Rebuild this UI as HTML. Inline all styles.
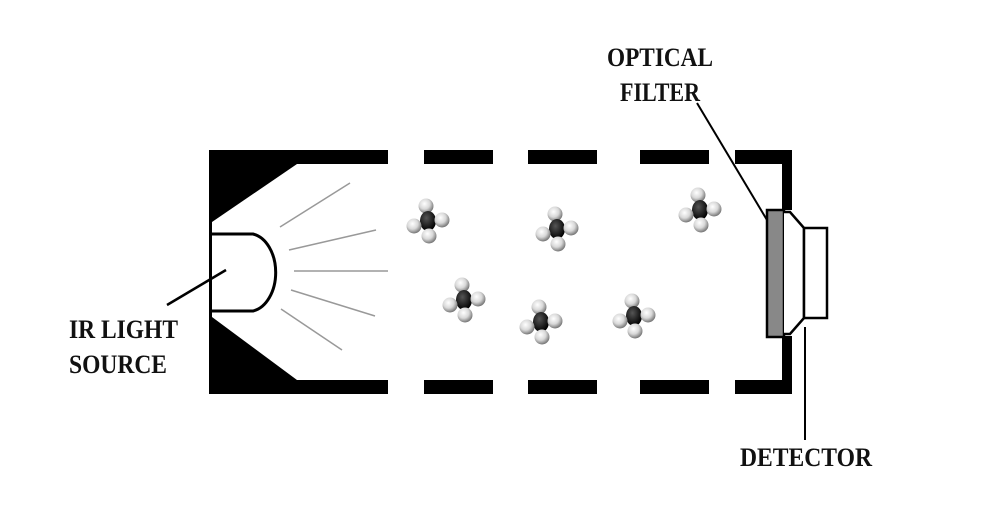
<!DOCTYPE html>
<html><head><meta charset="utf-8"><style>html,body{margin:0;padding:0;background:#fff}svg{display:block}</style></head>
<body>
<svg width="985" height="514" viewBox="0 0 985 514" xmlns="http://www.w3.org/2000/svg">
<defs>
<radialGradient id="h" cx="0.4" cy="0.35" r="0.65"><stop offset="0" stop-color="#fff"/><stop offset="0.55" stop-color="#d8d8d8"/><stop offset="1" stop-color="#777"/></radialGradient>
<radialGradient id="c" cx="0.4" cy="0.35" r="0.65"><stop offset="0" stop-color="#555"/><stop offset="1" stop-color="#000"/></radialGradient>
<g id="m">
<circle cx="-2" cy="-16" r="7.5" fill="url(#h)"/>
<ellipse cx="0" cy="-1" rx="8" ry="10" fill="url(#c)"/>
<circle cx="-14" cy="4" r="7.5" fill="url(#h)"/>
<circle cx="14" cy="-2" r="7.5" fill="url(#h)"/>
<circle cx="1" cy="14" r="7.5" fill="url(#h)"/>
</g>
</defs>
<path d="M209 150 H388 V164 H297 L212 222 V317 L297 380 H388 V394 H209 Z" fill="#000"/>
<path d="M212 234 H253 A27 39 0 0 1 253 311 H212" fill="#fff" stroke="#000" stroke-width="3"/>
<g stroke="#999" stroke-width="1.5">
<line x1="280" y1="227" x2="350" y2="183"/>
<line x1="289" y1="250" x2="376" y2="230"/>
<line x1="294" y1="271" x2="388" y2="271"/>
<line x1="291" y1="290" x2="375" y2="316"/>
<line x1="281" y1="309" x2="342" y2="350"/>
</g>
<g fill="#000">
<rect x="424" y="150" width="69" height="14"/>
<rect x="528" y="150" width="69" height="14"/>
<rect x="640" y="150" width="69" height="14"/>
<rect x="424" y="380" width="69" height="14"/>
<rect x="528" y="380" width="69" height="14"/>
<rect x="640" y="380" width="69" height="14"/>
<path d="M735 150 H792 V210 H782 V164 H735 Z"/>
<path d="M735 394 H792 V336 H782 V380 H735 Z"/>
</g>
<rect x="767" y="210" width="17" height="127" fill="#888" stroke="#000" stroke-width="2.5"/>
<path d="M784 212 L790 212 L804 228 L804 318 L790 334 L784 334" fill="#fff" stroke="#000" stroke-width="2.5"/>
<rect x="804" y="228" width="23" height="90" fill="#fff" stroke="#000" stroke-width="2.5"/>
<line x1="697" y1="103" x2="767" y2="220" stroke="#000" stroke-width="2"/>
<line x1="805" y1="327" x2="805" y2="440" stroke="#000" stroke-width="2"/>
<line x1="167" y1="305" x2="226" y2="270" stroke="#000" stroke-width="2.5"/>
<use href="#m" x="428" y="222"/>
<use href="#m" x="557" y="230"/>
<use href="#m" x="700" y="211"/>
<use href="#m" x="464" y="301"/>
<use href="#m" x="541" y="323"/>
<use href="#m" x="634" y="317"/>
<g font-family="Liberation Serif, serif" font-weight="bold" font-size="26" fill="#111">
<text x="69" y="338" textLength="109" lengthAdjust="spacingAndGlyphs">IR LIGHT</text>
<text x="69" y="373" textLength="98" lengthAdjust="spacingAndGlyphs">SOURCE</text>
<text x="607" y="66" textLength="106" lengthAdjust="spacingAndGlyphs">OPTICAL</text>
<text x="620" y="101" textLength="80" lengthAdjust="spacingAndGlyphs">FILTER</text>
<text x="740" y="466" textLength="132" lengthAdjust="spacingAndGlyphs">DETECTOR</text>
</g>
</svg>
</body></html>
